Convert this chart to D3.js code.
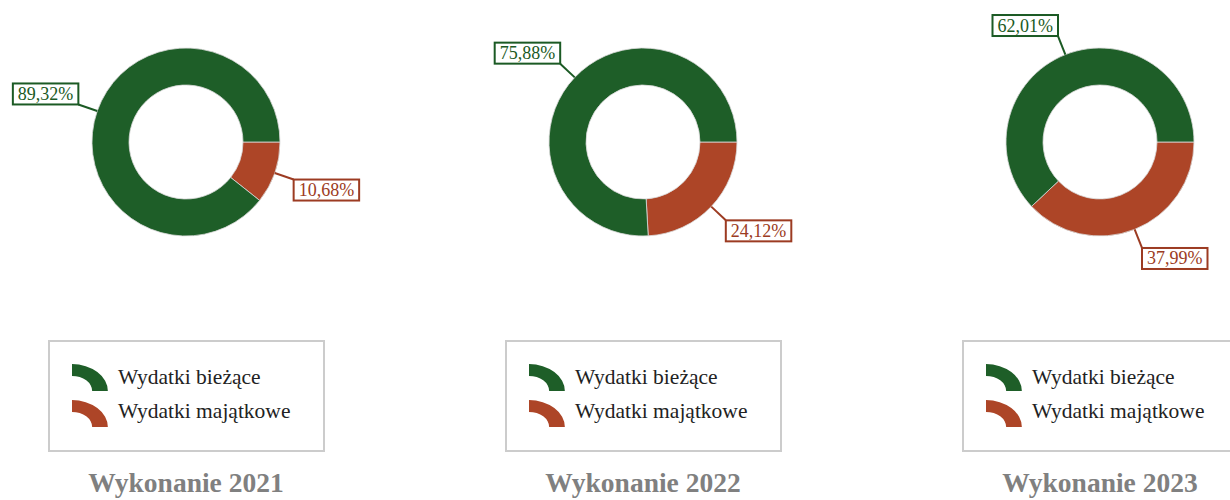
<!DOCTYPE html>
<html>
<head>
<meta charset="utf-8">
<script src="https://cdn.jsdelivr.net/npm/d3@7"></script>
<style>
  body { margin: 0; background: #fff; }
  svg { display: block; font-family: "Liberation Serif", "DejaVu Serif", serif; }
</style>
</head>
<body>
<svg width="1230" height="500"></svg>
<script>
// chart values
const years = ["2021", "2022", "2023"];
const categories = ["Wydatki bieżące", "Wydatki majątkowe"];
const wydatkiBiezace = [89.32, 75.88, 62.01];
const wydatkiMajatkowe = [10.68, 24.12, 37.99];

const fills = ["#1e5e28", "#ad4527"];
const labelColors = ["#1b5a24", "#9c3b22"];

const svg = d3.select("svg");

const panelX = d3.scalePoint().domain(years).range([186, 1100]);
const centerY = 142;
const outerR = 94, innerR = 57;

const arc = d3.arc().innerRadius(innerR).outerRadius(outerR);
const pie = d3.pie().sort(null).value(d => d.value)
    .startAngle(Math.PI / 2).endAngle(Math.PI * 2.5);

const fmt = v => v.toFixed(2).replace(".", ",") + "%";

// small legend icon: a quarter of a ring, squashed a bit
const iconArc = d3.arc().innerRadius(18).outerRadius(32).startAngle(0).endAngle(Math.PI / 2);

years.forEach((year, i) => {
    const cx = panelX(year);
    const g = svg.append("g").attr("class", "panel");

    // red slice first so that it starts at 3 o'clock going clockwise
    const entries = [
        { key: 1, value: wydatkiMajatkowe[i] },
        { key: 0, value: wydatkiBiezace[i] }
    ];
    const arcs = pie(entries);

    const pieG = g.append("g").attr("transform", `translate(${cx},${centerY})`);
    pieG.selectAll("path")
        .data(arcs)
        .join("path")
        .attr("d", arc)
        .attr("fill", d => fills[d.data.key])
        .attr("stroke", "#d9d9d9")
        .attr("stroke-width", 0.8);

    // labels with connectors
    arcs.forEach(d => {
        const mid = (d.startAngle + d.endAngle) / 2;
        const sx = Math.sin(mid), sy = -Math.cos(mid);
        const p0 = [sx * outerR, sy * outerR];
        const p1 = [sx * (outerR + 20), sy * (outerR + 20)];
        const col = labelColors[d.data.key];

        pieG.append("line")
            .attr("x1", p0[0]).attr("y1", p0[1])
            .attr("x2", p1[0]).attr("y2", p1[1])
            .attr("stroke", col).attr("stroke-width", 2);

        const lg = pieG.append("g");
        const rect = lg.append("rect");
        const txt = lg.append("text")
            .attr("font-size", 18)
            .attr("fill", col)
            .attr("text-anchor", "middle")
            .text(fmt(d.data.value));
        const w = txt.node().getComputedTextLength() + 10, h = 21;
        const bx = sx >= 0 ? p1[0] : p1[0] - w;
        const by = sy >= 0 ? p1[1] : p1[1] - h;
        rect.attr("x", bx).attr("y", by).attr("width", w).attr("height", h)
            .attr("fill", "#fff").attr("stroke", col).attr("stroke-width", 2);
        txt.attr("x", bx + w / 2).attr("y", by + h / 2 + 6);
    });

    // legend
    const lw = 275, lx = cx - 137;
    g.append("rect")
        .attr("x", lx).attr("y", 341).attr("width", lw).attr("height", 110)
        .attr("fill", "#fff").attr("stroke", "#cccccc").attr("stroke-width", 2);

    categories.forEach((name, k) => {
        const y0 = 391 + k * 36;
        g.append("path")
            .attr("d", iconArc())
            .attr("transform", `translate(${cx - 114},${y0}) scale(1.12,0.84)`)
            .attr("fill", fills[k]);
        g.append("text")
            .attr("x", cx - 68).attr("y", 384 + k * 34)
            .attr("font-size", 21.5)
            .attr("fill", "#222")
            .text(name);
    });

    // title
    g.append("text")
        .attr("x", cx).attr("y", 492)
        .attr("text-anchor", "middle")
        .attr("font-size", 27.5)
        .attr("font-weight", "bold")
        .attr("fill", "#808080")
        .text("Wykonanie " + year);
});
</script>
</body>
</html>
